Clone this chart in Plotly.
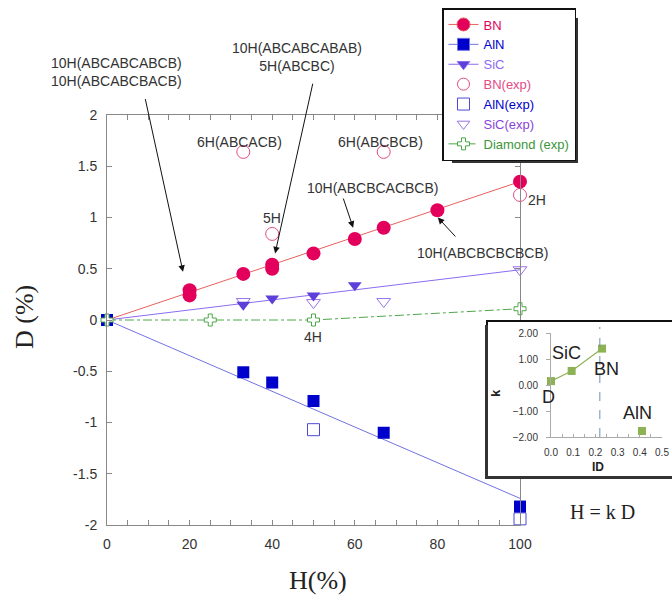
import plotly.graph_objects as go

W, H = 672, 598

# ---------------- data ----------------
bn_h = [20, 20, 33, 40, 40, 50, 60, 67, 80, 100]
bn_d = [0.24, 0.29, 0.45, 0.50, 0.54, 0.65, 0.79, 0.90, 1.07, 1.35]
bn_exp_h = [33, 40, 67, 100]
bn_exp_d = [1.64, 0.84, 1.64, 1.22]

aln_h = [0, 33, 40, 50, 67, 100]
aln_d = [0, -0.51, -0.61, -0.79, -1.10, -1.82]
aln_exp_h = [50, 100]
aln_exp_d = [-1.07, -1.94]

sic_h = [33, 40, 50, 60]
sic_d = [0.15, 0.21, 0.24, 0.34]
sic_exp_h = [33, 50, 67, 100]
sic_exp_d = [0.18, 0.17, 0.18, 0.49]

dia_h = [0, 25, 50, 100]
dia_d = [0.0, 0.0, 0.0, 0.11]

fit_h = [0, 100]
bn_fit = [0, 1.35]
aln_fit = [0, -1.74]
sic_fit = [0, 0.49]

inset_id = [0.0, 0.093, 0.23]
inset_k = [0.15, 0.54, 1.40]
inset_aln_id = [0.41]
inset_aln_k = [-1.77]
inset_ref_id = 0.22

x_ticks = [0, 20, 40, 60, 80, 100]
y_ticks = [-2, -1.5, -1, -0.5, 0, 0.5, 1, 1.5, 2]
y_tick_text = ["-2", "-1.5", "-1", "-0.5", "0", "0.5", "1", "1.5", "2"]

# ---------------- colours ----------------
C_BN, C_BN_LINE, C_BN_EXP = "#E2005C", "#E8605E", "#E24A86"
C_AL, C_AL_LINE, C_AL_EXP = "#0000CC", "#7272E2", "#4A4AD6"
C_SI, C_SI_LINE, C_SI_EXP = "#5D3FDA", "#8C6CF0", "#9A72EA"
C_DI = "#4FA64A"
C_IN = "#8DB254"

SANS = "Liberation Sans, Arial, sans-serif"
SERIF = "Liberation Serif, Times New Roman, serif"


def px(x):
    return x / W


def py(y):
    return 1 - y / H


fig = go.Figure()

# fitted lines
fig.add_trace(go.Scatter(x=fit_h, y=bn_fit, mode="lines", line=dict(color=C_BN_LINE, width=1),
                         showlegend=False, hoverinfo="skip"))
fig.add_trace(go.Scatter(x=fit_h, y=aln_fit, mode="lines", line=dict(color=C_AL_LINE, width=1),
                         showlegend=False, hoverinfo="skip"))
fig.add_trace(go.Scatter(x=fit_h, y=sic_fit, mode="lines", line=dict(color=C_SI_LINE, width=1),
                         showlegend=False, hoverinfo="skip"))
fig.add_trace(go.Scatter(x=dia_h, y=dia_d, mode="lines", line=dict(color=C_DI, width=1, dash="dashdot"),
                         showlegend=False, hoverinfo="skip"))

# experimental (open) markers
fig.add_trace(go.Scatter(x=bn_exp_h, y=bn_exp_d, mode="markers", cliponaxis=False, showlegend=False,
                         marker=dict(symbol="circle-open", size=13, color=C_BN_EXP, line=dict(width=1))))
fig.add_trace(go.Scatter(x=aln_exp_h, y=aln_exp_d, mode="markers", cliponaxis=False, showlegend=False,
                         marker=dict(symbol="square-open", size=12, color=C_AL_EXP, line=dict(width=1))))
fig.add_trace(go.Scatter(x=sic_exp_h, y=sic_exp_d, mode="markers", cliponaxis=False, showlegend=False,
                         marker=dict(symbol="triangle-down-open", size=12, color=C_SI_EXP, line=dict(width=1))))

# computed (filled) markers
fig.add_trace(go.Scatter(x=bn_h, y=bn_d, mode="markers", cliponaxis=False, showlegend=False,
                         marker=dict(symbol="circle", size=14, color=C_BN)))
fig.add_trace(go.Scatter(x=sic_h, y=sic_d, mode="markers", cliponaxis=False, showlegend=False,
                         marker=dict(symbol="triangle-down", size=12, color=C_SI)))
fig.add_trace(go.Scatter(x=aln_h, y=aln_d, mode="markers", cliponaxis=False, showlegend=False,
                         marker=dict(symbol="square", size=12, color=C_AL)))
fig.add_trace(go.Scatter(x=dia_h, y=dia_d, mode="markers", cliponaxis=False, showlegend=False,
                         marker=dict(symbol="cross", size=10, color="white", line=dict(color=C_DI, width=1))))


# legend entries
def leg(name, color, mode, symbol, mcolor, size, line=None, mline=None):
    fig.add_trace(go.Scatter(
        x=[None], y=[None], mode=mode,
        name="<span style='color:%s'>%s</span>" % (color, name),
        line=line or dict(width=1),
        marker=dict(symbol=symbol, color=mcolor, size=size, line=mline or dict(width=1)),
    ))


leg("BN", C_BN, "lines+markers", "circle", C_BN, 13, dict(color=C_BN_LINE, width=1))
leg("AlN", C_AL, "lines+markers", "square", C_AL, 12, dict(color=C_AL_LINE, width=1))
leg("SiC", C_SI_LINE, "lines+markers", "triangle-down", C_SI, 11, dict(color=C_SI_LINE, width=1))
leg("BN(exp)", C_BN_EXP, "markers", "circle-open", C_BN_EXP, 12)
leg("AlN(exp)", C_AL, "markers", "square-open", C_AL_EXP, 12)
leg("SiC(exp)", "#8A44DA", "markers", "triangle-down-open", C_SI_EXP, 11)
leg("Diamond (exp)", "#3C963A", "lines+markers", "cross", "white", 10,
    dict(color=C_DI, width=1, dash="dashdot"), dict(color=C_DI, width=1))

# empty trace so the opaque inset panel subplot (x2/y2) exists
fig.add_trace(go.Scatter(x=[None], y=[None], xaxis="x2", yaxis="y2", showlegend=False, hoverinfo="skip"))

# inset traces (x3/y3)
fig.add_trace(go.Scatter(x=inset_id, y=inset_k, mode="lines+markers", xaxis="x3", yaxis="y3",
                         cliponaxis=False, showlegend=False,
                         line=dict(color=C_IN, width=1.2),
                         marker=dict(symbol="square", size=8, color=C_IN)))
fig.add_trace(go.Scatter(x=inset_aln_id, y=inset_aln_k, mode="markers", xaxis="x3", yaxis="y3",
                         cliponaxis=False, showlegend=False,
                         marker=dict(symbol="square", size=8, color=C_IN)))

# ---------------- annotations ----------------
ann = []
TXT = dict(family=SANS, size=14, color="#333333")


def label(x, y, text, xref="x", yref="y", font=None, **kw):
    d = dict(x=x, y=y, xref=xref, yref=yref, text=text, showarrow=False,
             font=font or TXT, xanchor="center", yanchor="middle")
    d.update(kw)
    ann.append(d)


def arrow(x, y, ax, ay):
    ann.append(dict(x=x, y=y, ax=ax, ay=ay, xref="x", yref="y", axref="x", ayref="y",
                    text="", showarrow=True, arrowhead=2, arrowsize=1.3, arrowwidth=1,
                    arrowcolor="#111111"))


label(px(116), py(72), "10H(ABCABCABCB)<br>10H(ABCABCBACB)", "paper", "paper")
label(px(297), py(57), "10H(ABCABCABAB)<br>5H(ABCBC)", "paper", "paper")
label(32.2, 1.74, "6H(ABCACB)")
label(66.3, 1.74, "6H(ABCBCB)")
label(40.0, 1.00, "5H")
label(64.4, 1.29, "10H(ABCBCACBCB)")
label(91.0, 0.65, "10H(ABCBCBCBCB)")
label(px(537), py(200), "2H", "paper", "paper")
label(49.9, -0.17, "4H")

arrow(18.4, 0.47, 9.2, 2.17)
arrow(40.7, 0.65, 49.9, 2.32)
arrow(59.6, 0.90, 57.1, 1.20)
arrow(80.1, 1.00, 84.7, 0.80)

# axis titles
label(px(24), py(317), "D (%)", "paper", "paper",
      dict(family=SERIF, size=26, color="#222222"), textangle=-90)
label(px(318), py(580), "H(%)", "paper", "paper",
      dict(family=SERIF, size=26, color="#222222"))
label(px(602), py(512), "H = k D", "paper", "paper",
      dict(family=SERIF, size=20, color="#222222"))

# inset labels
INF = dict(family=SANS, size=18, color="#222222")
label(px(566), py(353), "SiC", "paper", "paper", INF)
label(px(606), py(369), "BN", "paper", "paper", INF)
label(px(548), py(397), "D", "paper", "paper", INF)
label(px(637), py(413), "AlN", "paper", "paper", INF)
label(px(598), py(467), "<b>ID</b>", "paper", "paper", dict(family=SANS, size=12, color="#222222"))
label(px(495), py(393), "<b>k</b>", "paper", "paper", dict(family=SANS, size=13, color="#222222"),
      textangle=-90)

# ---------------- shapes ----------------
SH = "#333333"
LEG_L, LEG_T = 442, 8
LEG_R, LEG_B = 575, 160          # approximate legend box edges (px)
BOX_L, BOX_T, BOX_B = 488, 322, 476
shapes = [
    # legend shadow (drawn under the legend, offset down-right)
    dict(type="rect", xref="paper", yref="paper", x0=px(LEG_L + 10), x1=px(LEG_R + 3),
         y0=py(LEG_B + 3), y1=py(LEG_T + 10), fillcolor=SH, line=dict(width=0), layer="above"),
    # inset shadow (left and bottom strips)
    dict(type="rect", xref="paper", yref="paper", x0=px(BOX_L - 3), x1=px(BOX_L),
         y0=py(BOX_B + 3), y1=py(BOX_T + 3), fillcolor=SH, line=dict(width=0), layer="above"),
    dict(type="rect", xref="paper", yref="paper", x0=px(BOX_L - 3), x1=1.0,
         y0=py(BOX_B + 3), y1=py(BOX_B), fillcolor=SH, line=dict(width=0), layer="above"),
    # dashed reference line in inset
    dict(type="line", xref="x3", yref="paper", x0=inset_ref_id, x1=inset_ref_id,
         y0=py(437), y1=py(327), line=dict(color="#6F8FB8", width=1, dash="dash"), layer="above"),
]

AX = dict(showgrid=False, zeroline=False, showline=True, linecolor="#888888", linewidth=1,
          ticks="inside", tickcolor="#888888", ticklen=5, tickwidth=1, mirror="allticks",
          automargin=False, tickfont=dict(family=SANS, size=14, color="#333333"))

fig.update_layout(
    width=W, height=H,
    margin=dict(l=0, r=0, t=0, b=0, autoexpand=False),
    paper_bgcolor="white", plot_bgcolor="white",
    xaxis=dict(domain=[px(107), px(520)], range=[0, 100], anchor="y",
               tickvals=x_ticks, ticktext=[str(v) for v in x_ticks], ticklabelstandoff=6,
               minor=dict(dtick=5, ticks="inside", ticklen=5, tickcolor="#888888"),
               **AX),
    yaxis=dict(domain=[1 - 525 / H, 1 - 115 / H], range=[-2, 2], anchor="x",
               tickvals=y_ticks, ticktext=y_tick_text, ticklabelstandoff=6, **AX),
    # inset panel (empty subplot used as an opaque box)
    xaxis2=dict(domain=[px(BOX_L), 1.0], range=[0, 1], anchor="y2", showline=True, mirror=True,
                linecolor="#111111", linewidth=1.5, showticklabels=False, ticks="",
                showgrid=False, zeroline=False, fixedrange=True, automargin=False),
    yaxis2=dict(domain=[1 - BOX_B / H, 1 - BOX_T / H], range=[0, 1], anchor="x2", showline=True,
                mirror=False, linecolor="#111111", linewidth=1.5, showticklabels=False, ticks="",
                showgrid=False, zeroline=False, fixedrange=True, automargin=False),
    # inset axes
    xaxis3=dict(domain=[px(551), px(662)], range=[0, 0.5], anchor="y3", dtick=0.1, tickformat=".1f",
                showline=True, linecolor="#AAAAAA", ticks="inside", ticklen=3, tickcolor="#AAAAAA",
                minor=dict(dtick=0.05, ticks="inside", ticklen=3, tickcolor="#AAAAAA"),
                showgrid=False, zeroline=False, ticklabelstandoff=6, automargin=False,
                tickfont=dict(family=SANS, size=10, color="#333333")),
    yaxis3=dict(domain=[1 - 437 / H, 1 - 333 / H], range=[-2, 2], anchor="x3", dtick=1, tickformat=".2f",
                showline=True, linecolor="#AAAAAA", ticks="outside", ticklen=4, tickcolor="#AAAAAA",
                showgrid=False, zeroline=False, ticklabelstandoff=6, automargin=False,
                tickfont=dict(family=SANS, size=10, color="#333333")),
    legend=dict(x=px(LEG_L), y=py(LEG_T), xanchor="left", yanchor="top",
                bgcolor="white", bordercolor="#111111", borderwidth=1.5,
                font=dict(family=SANS, size=13), tracegroupgap=0, itemwidth=30),
    annotations=ann,
    shapes=shapes,
    showlegend=True,
)

fig.write_html("out.html",
               config={"displayModeBar": False},
               post_script="document.body.style.margin='0';document.body.style.overflow='hidden';")
